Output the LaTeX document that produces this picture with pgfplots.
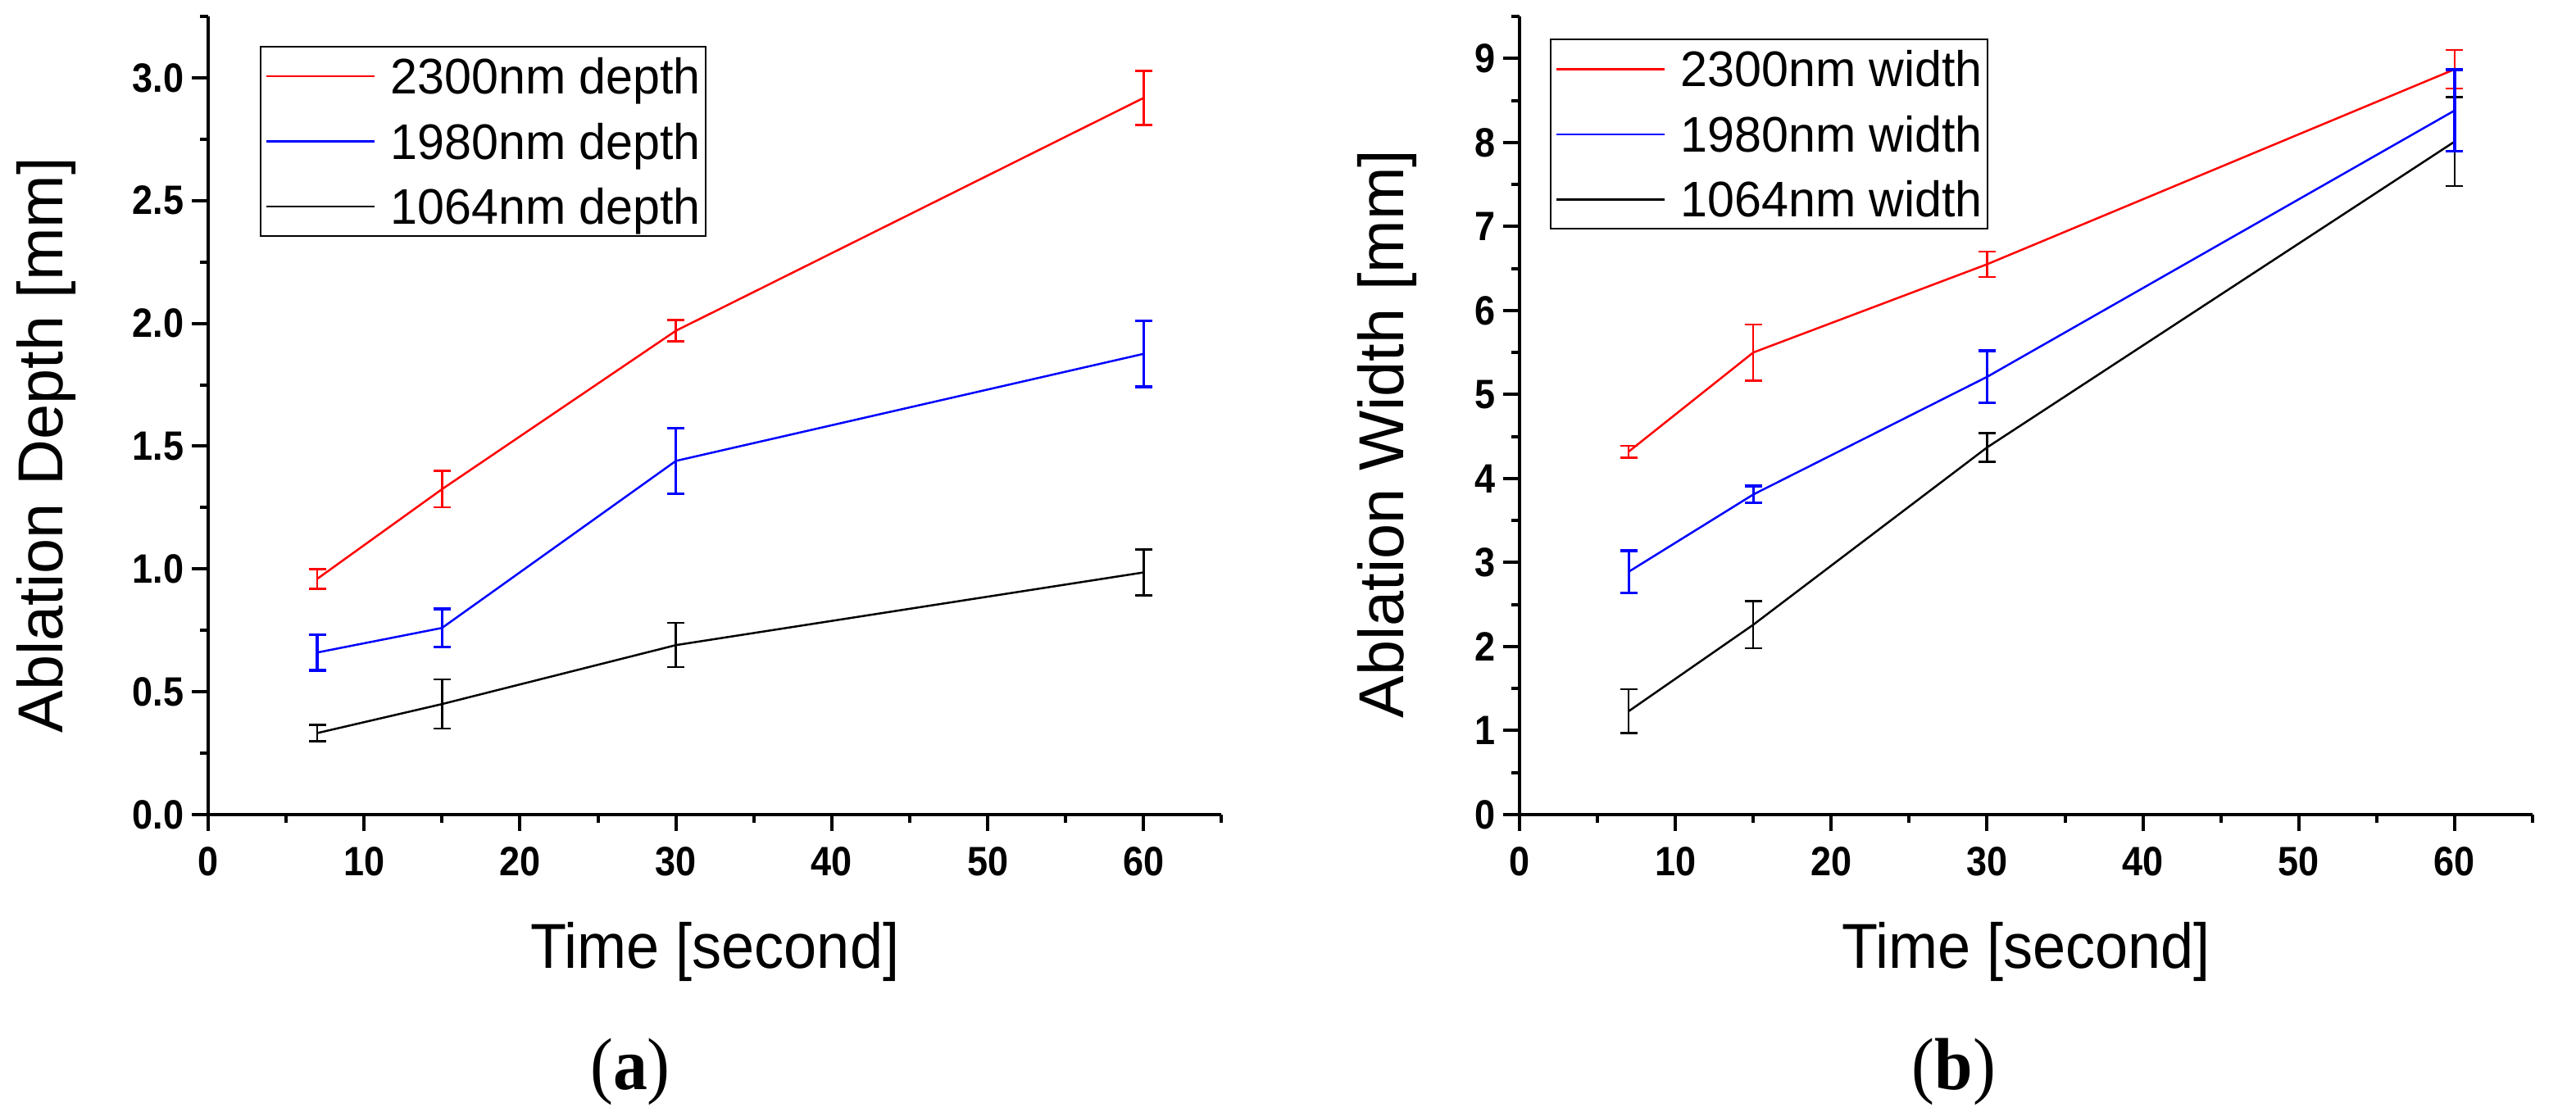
\documentclass[border=0pt]{standalone}
\usepackage{fontspec}
\setmainfont{Liberation Sans}
\newfontfamily\labfont{Liberation Sans}[FakeStretch=0.93]
\newfontfamily\legfont{Liberation Sans}[FakeStretch=0.97]
\newfontfamily\tickfont{Liberation Sans Bold}[FakeStretch=0.9]
\newfontfamily\capfont{Liberation Serif}[FakeStretch=0.93]
\usepackage{pgfplots}
\usepackage{pgfplotstable}
\pgfplotsset{compat=1.18}

% depth, panel (a)
\pgfplotstableread{
x y e
7 0.96 0.04
15 1.325 0.074
30 1.97 0.043
60 2.918 0.11
}\depthRed
\pgfplotstableread{
x y e
7 0.66 0.072
15 0.76 0.077
30 1.44 0.133
60 1.876 0.135
}\depthBlue
\pgfplotstableread{
x y e
7 0.332 0.033
15 0.45 0.10
30 0.69 0.09
60 0.986 0.093
}\depthBlack
% width, panel (b)
\pgfplotstableread{
x y e
7 4.32 0.07
15 5.50 0.335
30 6.55 0.15
60 8.87 0.23
}\widthRed
\pgfplotstableread{
x y e
7 2.89 0.25
15 3.81 0.10
30 5.21 0.31
60 8.38 0.485
}\widthBlue
\pgfplotstableread{
x y e
7 1.23 0.26
15 2.26 0.28
30 4.37 0.17
60 8.01 0.53
}\widthBlack

\pgfplotsset{
  panel/.style={
    scale only axis, width=247.3pt, height=194.8pt,
    axis x line*=bottom, axis y line*=left,
    axis line style={line width=0.9pt},
    tick align=outside, major tick length=4pt, minor tick length=2pt,
    tick style={black, line width=0.8pt},
    xmin=0, xmax=65, xtick={0,10,...,60}, minor xtick={5,15,...,65},
    /pgf/number format/assume math mode=true,
    ticklabel style={font=\tickfont\fontsize{10}{12}\selectfont},
    yticklabel style={xshift=1.6pt},
    xticklabel style={yshift=-0.4pt},
    xlabel style={font=\labfont\fontsize{15.5}{18}\selectfont,
      at={(axis description cs:0.5,-0.192)}, anchor=base},
    ylabel style={font=\fontsize{15.5}{18}\selectfont, anchor=center},
    legend image code/.code={\draw[#1] (0pt,0pt) -- (26.4pt,0pt);},
    legend cell align=left,
    legend style={draw=black, line width=0.4pt, anchor=north west,
      font=\legfont\fontsize{12.2}{14}\selectfont,
      inner xsep=1.2pt, inner ysep=2.9pt, row sep=7.3pt, column sep=3.6pt,
      nodes={inner sep=0pt, text height=8.6pt, text depth=0pt}},
  },
  ser/.style 2 args={#1, line width=0.5pt, forget plot,
    error bars/.cd, y dir=both, y explicit,
    error bar style={line width=#2},
    error mark options={rotate=90, mark size=2.1pt, line width=#2}},
}

\begin{document}
\begin{tikzpicture}
\begin{axis}[panel,
    ymin=0, ymax=3.25, ytick={0,0.5,...,3}, minor ytick={0.25,0.75,...,3.25},
    yticklabel style={/pgf/number format/.cd, fixed, fixed zerofill, precision=1},
    xlabel={Time [second]}, ylabel={Ablation Depth [mm]},
    ylabel style={at={(axis description cs:-0.160,0.463)}},
    legend style={at={(axis description cs:0.051,0.963)}}]
  \addlegendimage{red, line width=0.5pt}\addlegendentry{2300nm depth}
  \addlegendimage{blue, line width=0.5pt}\addlegendentry{1980nm depth}
  \addlegendimage{black, line width=0.5pt}\addlegendentry{1064nm depth}
  \addplot[ser={red}{0.5pt}] table[x=x, y=y, y error=e] {\depthRed};
  \addplot[ser={black}{0.5pt}] table[x=x, y=y, y error=e] {\depthBlack};
  \addplot[ser={blue}{0.7pt}] table[x=x, y=y, y error=e] {\depthBlue};
\end{axis}
\begin{axis}[panel, at={(320pt,0pt)}, width=247.2pt,
    ymin=0, ymax=9.5, ytick={0,1,...,9}, minor ytick={0.5,1.5,...,9.5},
    xlabel={Time [second]}, ylabel={Ablation Width [mm]},
    ylabel style={at={(axis description cs:-0.131,0.477)}},
    legend style={at={(axis description cs:0.030,0.972)}}]
  \addlegendimage{red, line width=0.5pt}\addlegendentry{2300nm width}
  \addlegendimage{blue, line width=0.5pt}\addlegendentry{1980nm width}
  \addlegendimage{black, line width=0.5pt}\addlegendentry{1064nm width}
  \addplot[ser={red}{0.5pt}] table[x=x, y=y, y error=e] {\widthRed};
  \addplot[ser={black}{0.5pt}] table[x=x, y=y, y error=e] {\widthBlack};
  \addplot[ser={blue}{0.65pt}] table[x=x, y=y, y error=e] {\widthBlue};
\end{axis}
\node[font=\capfont\fontsize{18}{20}\selectfont, anchor=base] at (103pt,-67.2pt) {(\textbf{a})};
\node[font=\capfont\fontsize{18}{20}\selectfont, anchor=base] at (426pt,-67.2pt) {(\textbf{b})};
\pgfresetboundingbox
\path[use as bounding box] (-50.8pt,-73.8pt) rectangle (577.8pt,198.8pt);
\end{tikzpicture}
\end{document}
